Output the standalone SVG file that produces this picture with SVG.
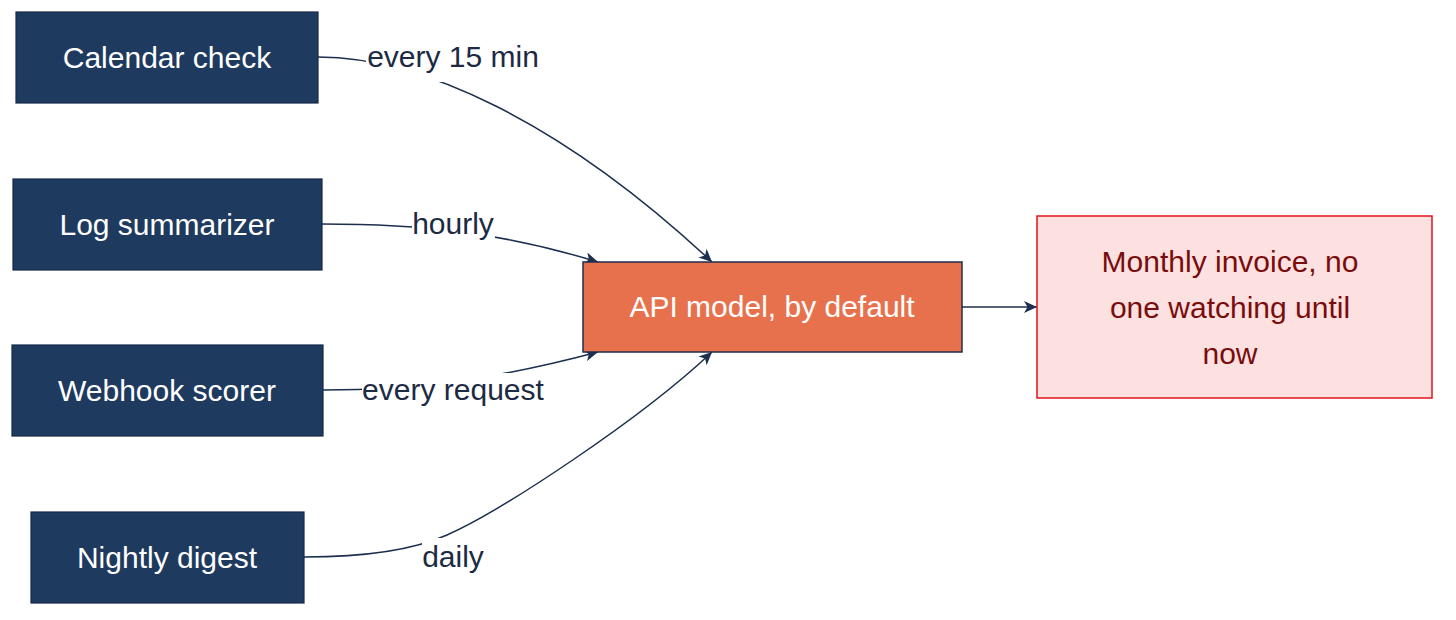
<svg xmlns="http://www.w3.org/2000/svg" width="1456" height="620" viewBox="0 0 1456 620">
<style>
text{font-family:"Liberation Sans",Arial,Helvetica,sans-serif;font-size:30px;text-anchor:middle}
.src{fill:#1f3a5f;stroke:#16294a;stroke-width:1.2}
.srct{fill:#ffffff}
.edge{fill:none;stroke:#1c2f4e;stroke-width:1.5}
.lbl{fill:#1c2a44}
.lblbg{fill:#ffffff}
</style>
<defs>
<marker id="arr" markerWidth="14" markerHeight="12" viewBox="0 0 14 12" refX="13" refY="6" orient="auto" markerUnits="userSpaceOnUse">
<path d="M0,0 L13,6 L0,12 L3.5,6 z" fill="#1c2f4e"/>
</marker>
</defs>
<g id="connectors">
<path class="edge" d="M318,57 C420,57 560,120 712,262" marker-end="url(#arr)"/>
<path class="edge" d="M322,224 C420,224 500,232 598,262" marker-end="url(#arr)"/>
<path class="edge" d="M323,390 C420,390 500,378 598,352" marker-end="url(#arr)"/>
<path class="edge" d="M304,557 C380,557 420,547 447,535 C501,511 640,420 712,352" marker-end="url(#arr)"/>
<path class="edge" d="M962,307 L1037,307" marker-end="url(#arr)"/>
<rect class="lblbg" x="366" y="40" width="174" height="42"/>
<text class="lbl" x="453" y="67">every 15 min</text>
<rect class="lblbg" x="412" y="207" width="83" height="34"/>
<text class="lbl" x="453" y="234">hourly</text>
<rect class="lblbg" x="362" y="373" width="183" height="34"/>
<text class="lbl" x="453" y="400">every request</text>
<rect class="lblbg" x="422" y="538" width="62" height="36"/>
<text class="lbl" x="453" y="567">daily</text>
</g>
<g id="calendar-check">
<rect class="src" x="16" y="12" width="302" height="91"/>
<text class="srct" x="167" y="68">Calendar check</text>
</g>
<g id="log-summarizer">
<rect class="src" x="13" y="179" width="309" height="91"/>
<text class="srct" x="167" y="235">Log summarizer</text>
</g>
<g id="webhook-scorer">
<rect class="src" x="12" y="345" width="311" height="91"/>
<text class="srct" x="167" y="401">Webhook scorer</text>
</g>
<g id="nightly-digest">
<rect class="src" x="31" y="512" width="273" height="91"/>
<text class="srct" x="167" y="568">Nightly digest</text>
</g>
<g id="api-model">
<rect x="583" y="262" width="379" height="90" fill="#e8714d" stroke="#1c2f4e" stroke-width="1.5"/>
<text x="772" y="317" fill="#ffffff">API model, by default</text>
</g>
<g id="monthly-invoice">
<rect x="1037" y="216" width="395" height="182" fill="#fde1e1" stroke="#e3121c" stroke-width="1.5"/>
<text x="1230" y="272" fill="#7a0c0c">Monthly invoice, no</text>
<text x="1230" y="318" fill="#7a0c0c">one watching until</text>
<text x="1230" y="364" fill="#7a0c0c">now</text>
</g>
</svg>
